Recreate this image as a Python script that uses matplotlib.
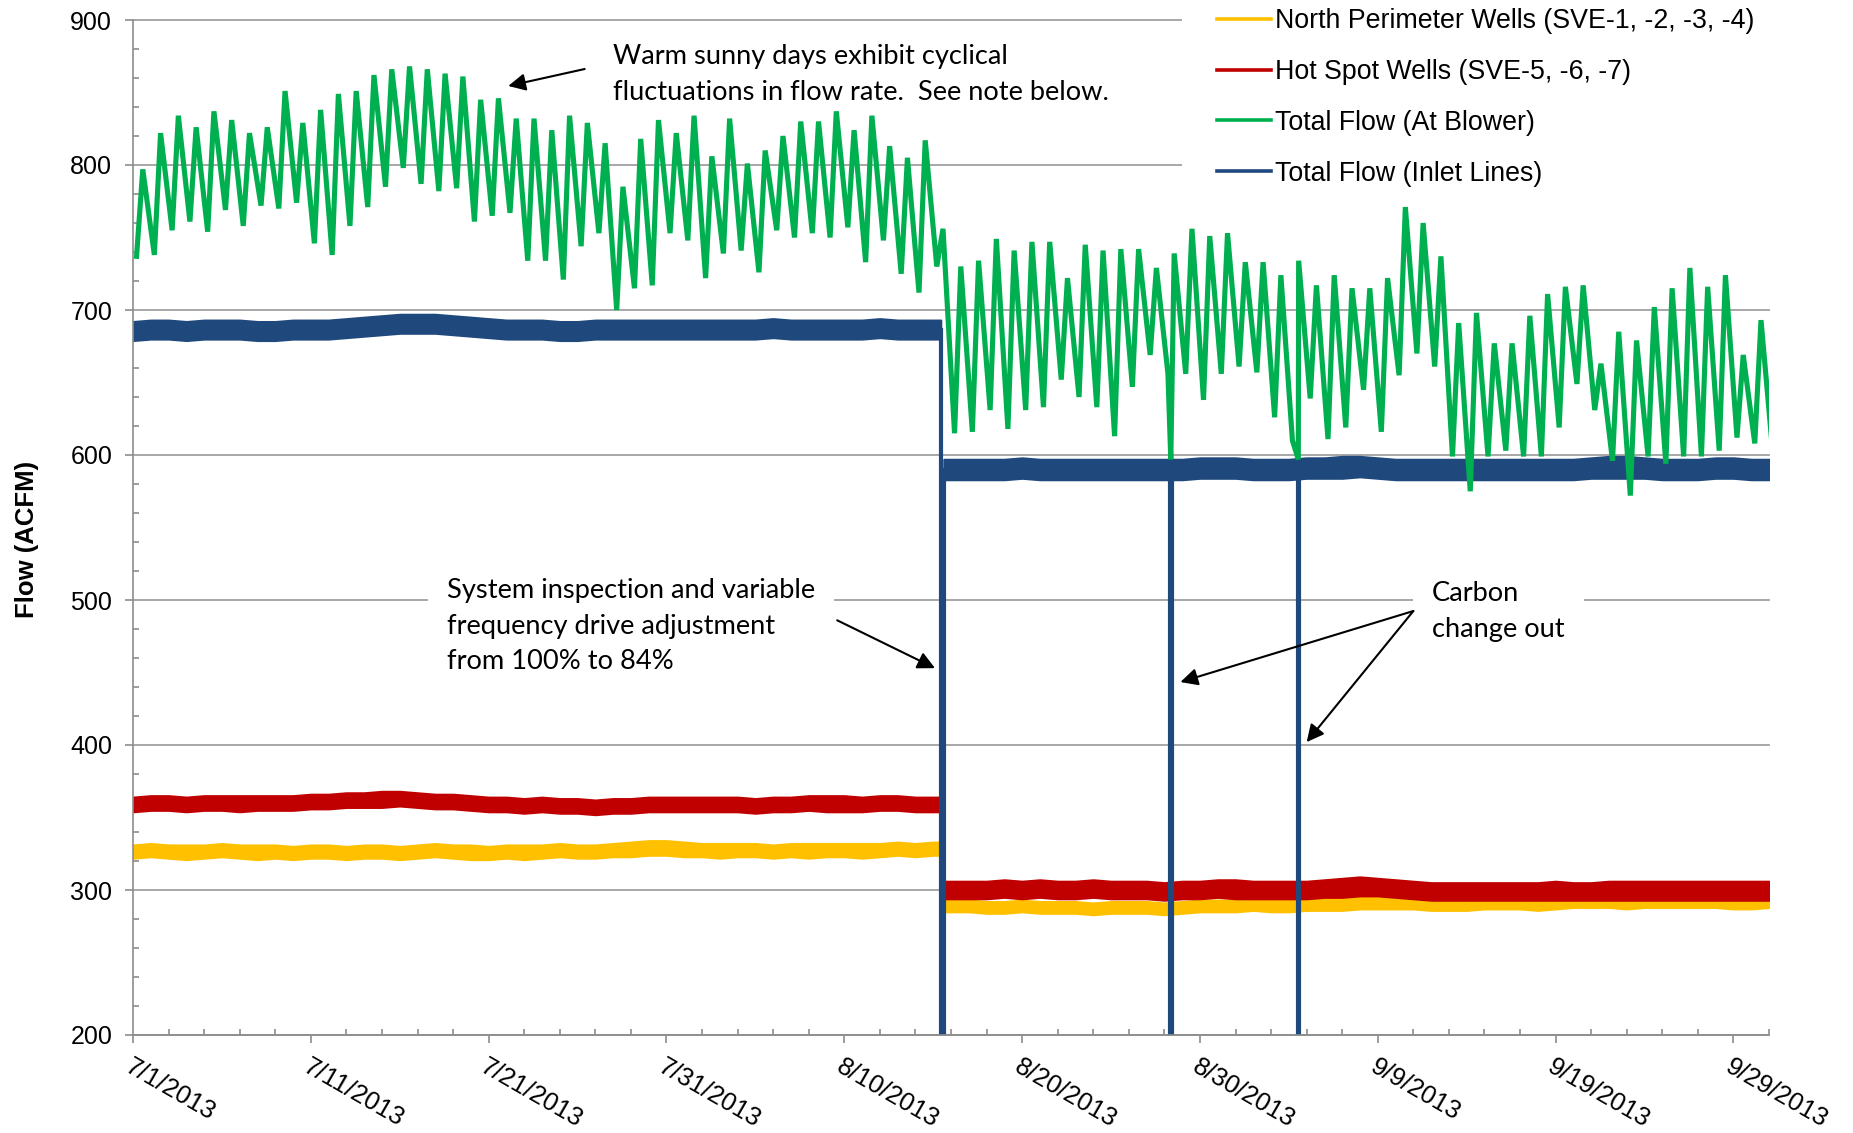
import numpy as np
import pandas as pd
import matplotlib
matplotlib.use("Agg")
import matplotlib.pyplot as plt
from matplotlib.lines import Line2D
from matplotlib.patches import Rectangle

# ---- data (x = days after 7/1/2013) ----
# daily low / high of the flat series (days 0..92)
north_lo = [322, 323, 322, 321, 322, 323, 322, 321, 322, 321,
            322, 322, 321, 322, 322, 321, 322, 323, 322, 321,
            321, 322, 321, 322, 323, 322, 322, 323, 323, 324,
            324, 323, 323, 322, 323, 323, 322, 323, 322, 323,
            323, 322, 323, 324, 323, 324,
            285, 285, 284, 284, 285, 284, 284, 284, 283, 284,
            284, 284, 283, 284, 285, 285, 285, 286, 285, 285,
            286, 286, 286, 287, 287, 287, 287, 286, 286, 286,
            287, 287, 287, 286, 287, 288, 288, 288, 287, 288,
            288, 288, 288, 288, 287, 287, 288]
north_hi = [331, 332, 331, 331, 331, 332, 331, 331, 331, 330,
            331, 331, 330, 331, 331, 330, 331, 332, 331, 331,
            330, 331, 331, 331, 332, 331, 331, 332, 333, 334,
            334, 333, 332, 332, 332, 332, 331, 332, 332, 332,
            332, 332, 332, 333, 332, 333,
            293, 293, 292, 292, 293, 292, 292, 292, 291, 292,
            292, 292, 291, 292, 293, 293, 293, 294, 294, 294,
            295, 295, 295, 296, 296, 296, 296, 295, 295, 295,
            296, 296, 296, 295, 296, 297, 297, 297, 296, 297,
            297, 297, 297, 297, 296, 296, 297]

hot_lo = [354, 355, 355, 354, 355, 355, 354, 355, 355, 355,
          356, 356, 357, 357, 357, 358, 357, 356, 356, 355,
          354, 354, 353, 354, 353, 353, 352, 353, 353, 354,
          354, 354, 354, 354, 354, 353, 354, 354, 355, 354,
          354, 354, 355, 355, 354, 354,
          294, 294, 294, 295, 294, 295, 294, 294, 295, 294,
          294, 294, 293, 294, 294, 295, 294, 294, 294, 294,
          294, 295, 295, 296, 296, 295, 294, 293, 293, 293,
          293, 293, 293, 293, 293, 293, 293, 293, 293, 293,
          293, 293, 293, 293, 293, 293, 293]
hot_hi = [364, 365, 365, 364, 365, 365, 365, 365, 365, 365,
          366, 366, 367, 367, 368, 368, 367, 366, 366, 365,
          364, 364, 363, 364, 363, 363, 362, 363, 363, 364,
          364, 364, 364, 364, 364, 363, 364, 364, 365, 365,
          365, 364, 365, 365, 364, 364,
          306, 306, 306, 307, 306, 307, 306, 306, 307, 306,
          306, 306, 305, 306, 306, 307, 307, 306, 306, 306,
          306, 307, 308, 309, 308, 307, 306, 305, 305, 305,
          305, 305, 305, 305, 306, 305, 305, 306, 306, 306,
          306, 306, 306, 306, 306, 306, 306]

inlet_lo = [679, 680, 680, 679, 680, 680, 680, 679, 679, 680,
            680, 680, 681, 682, 683, 684, 684, 684, 683, 682,
            681, 680, 680, 680, 679, 679, 680, 680, 680, 680,
            680, 680, 680, 680, 680, 680, 681, 680, 680, 680,
            680, 680, 681, 680, 680, 680,
            583, 583, 583, 583, 584, 583, 583, 583, 583, 583,
            583, 583, 583, 583, 584, 584, 584, 583, 583, 583,
            584, 584, 584, 585, 584, 583, 583, 583, 583, 583,
            583, 583, 583, 583, 583, 583, 584, 584, 584, 584,
            583, 583, 583, 584, 584, 583, 583]
inlet_hi = [692, 693, 693, 692, 693, 693, 693, 692, 692, 693,
            693, 693, 694, 695, 696, 697, 697, 697, 696, 695,
            694, 693, 693, 693, 692, 692, 693, 693, 693, 693,
            693, 693, 693, 693, 693, 693, 694, 693, 693, 693,
            693, 693, 694, 693, 693, 693,
            597, 597, 597, 597, 598, 597, 597, 597, 597, 597,
            597, 597, 597, 597, 598, 598, 598, 597, 597, 597,
            598, 598, 599, 599, 598, 597, 597, 597, 597, 597,
            597, 597, 597, 597, 597, 597, 598, 599, 599, 598,
            597, 597, 597, 598, 598, 597, 597]

# blower flow: daily trough (morning) and peak (afternoon)
green_lo = [737, 738, 755, 761, 754, 769, 758, 772, 770, 774,
            746, 738, 758, 771, 785, 798, 787, 782, 784, 761,
            765, 767, 734, 734, 721, 744, 753, 700, 715, 717,
            753, 748, 722, 739, 741, 726, 755, 750, 753, 750,
            757, 733, 748, 725, 712, 730,
            615, 616, 631, 618, 631, 633, 652, 640, 633, 613,
            647, 669, 656, 656, 638, 656, 661, 657, 626, 610,
            639, 611, 619, 645, 616, 655, 670, 661, 599, 575,
            599, 603, 599, 599, 619, 649, 631, 596, 572, 599,
            594, 599, 599, 603, 612, 608, 603]
green_hi = [797, 822, 834, 826, 837, 831, 822, 826, 851, 829,
            838, 849, 851, 862, 866, 868, 866, 863, 861, 845,
            846, 832, 832, 824, 834, 829, 815, 785, 818, 831,
            822, 834, 806, 832, 801, 810, 820, 830, 830, 837,
            824, 834, 813, 805, 817, 756,
            730, 734, 749, 741, 747, 747, 722, 745, 741, 742,
            742, 729, 739, 756, 751, 753, 733, 733, 724, 734,
            717, 724, 715, 715, 722, 771, 760, 737, 691, 698,
            677, 677, 696, 711, 716, 717, 663, 685, 679, 702,
            715, 729, 716, 724, 669, 693]

# shutdowns: VFD adjustment (8/15) and two carbon change outs
shutdown_start = [45.42, 58.32, 65.49]
shutdown_end = [45.60, 58.40, 65.57]
inlet_before = [686, 590, 590]
inlet_after = [590, 590, 590]
carbon_dip_day = [58.36, 65.53]
carbon_dip_flow = [597, 597]

tick_dates = pd.date_range("2013-07-01", "2013-09-29", freq="10D")
tick_labels = [f"{d.month}/{d.day}/{d.year}" for d in tick_dates]

labels = ["North Perimeter Wells (SVE-1, -2, -3, -4)",
          "Hot Spot Wells (SVE-5, -6, -7)",
          "Total Flow (At Blower)",
          "Total Flow (Inlet Lines)"]
colors = ["#FFC000", "#C00000", "#00B050", "#1F497D"]
GRAY = "#8C8C8C"

ARIAL = ["Liberation Sans", "DejaVu Sans"]
CALIBRI = ["Lato", "DejaVu Sans"]

days = np.arange(93)


def split_at_vfd(lo, hi):
    lo = np.asarray(lo, float)
    hi = np.asarray(hi, float)
    t1 = np.append(days[:46], shutdown_start[0])
    l1 = np.append(lo[:46], lo[45])
    h1 = np.append(hi[:46], hi[45])
    t2 = np.insert(days[46:].astype(float), 0, shutdown_end[0])
    l2 = np.insert(lo[46:], 0, lo[46])
    h2 = np.insert(hi[46:], 0, hi[46])
    return [(t1, l1, h1), (t2, l2, h2)]


fig = plt.figure(figsize=(18.53, 11.33), dpi=100)
ax = fig.add_axes([133 / 1853, 98 / 1133, 1636 / 1853, 1015 / 1133])

# flat series as noisy bands
for lo, hi, col, z in [(north_lo, north_hi, colors[0], 2.0),
                       (hot_lo, hot_hi, colors[1], 2.1),
                       (inlet_lo, inlet_hi, colors[3], 2.2)]:
    for t, l, h in split_at_vfd(lo, hi):
        ax.fill_between(t, l, h, color=col, lw=1.6, edgecolor=col, zorder=z)

# inlet flow drops to zero during shutdowns
for s, e, b, a in zip(shutdown_start, shutdown_end, inlet_before, inlet_after):
    ax.plot([s, s, e, e], [b, 0, 0, a], color=colors[3], lw=3,
            solid_joinstyle="miter", zorder=2.25)

# blower flow
t_g = []
v_g = []
for d in range(len(green_hi)):
    t_g += [d + 0.2, d + 0.55]
    v_g += [green_lo[d], green_hi[d]]
t_g.append(len(green_hi) + 0.2)
v_g.append(green_lo[-1])
t_g = np.array(t_g + carbon_dip_day)
v_g = np.array(v_g + carbon_dip_flow)
order = np.argsort(t_g)
ax.plot(t_g[order], v_g[order], color=colors[2], lw=3.7, zorder=2.3,
        solid_joinstyle="miter")

# axes styling
ax.set_xlim(0, 92)
ax.set_ylim(200, 900)
ax.set_yticks(np.arange(200, 901, 100))
ax.set_yticks(np.arange(200, 901, 20), minor=True)
ax.set_xticks((tick_dates - tick_dates[0]).days)
ax.set_xticks(np.arange(0, 93, 2), minor=True)
ax.set_xticklabels(tick_labels)
for sp in ["top", "right"]:
    ax.spines[sp].set_visible(False)
for sp in ["left", "bottom"]:
    ax.spines[sp].set_color(GRAY)
    ax.spines[sp].set_linewidth(1.2)
ax.tick_params(which="major", direction="out", length=6, width=1.2,
               color=GRAY, labelsize=18)
ax.tick_params(which="minor", direction="in", length=4.5, width=1.2,
               color=GRAY)
ax.tick_params(axis="y", which="major", pad=9)
ax.tick_params(axis="x", which="major", pad=8, labelsize=18.4)
for lab in ax.get_yticklabels():
    lab.set_fontfamily(ARIAL)
for lab in ax.get_xticklabels():
    lab.set_fontfamily(ARIAL)
    lab.set_rotation(-30)
    lab.set_ha("left")
    lab.set_va("top")
    lab.set_rotation_mode("anchor")

ax.set_axisbelow(True)
ax.grid(axis="y", which="major", color="#A0A0A0", lw=1.3)
for gl in ax.get_ygridlines():
    gl.set_clip_on(False)

ax.set_ylabel("Flow (ACFM)", fontsize=18.5, fontweight="bold", family=ARIAL)
ax.yaxis.set_label_coords(-0.0575, 0.488)

# white area behind the legend
ax.add_patch(Rectangle((0.641, 0.8325), 0.36, 0.2, transform=ax.transAxes,
                       facecolor="white", edgecolor="none", zorder=1,
                       clip_on=False))

handles = [Line2D([], [], color=c, lw=2.6) for c in colors]
fig.legend(handles, labels, loc="upper left",
           bbox_to_anchor=(1217 / 1853, 1 - 8 / 1133), frameon=False,
           prop={"family": ARIAL, "size": 19.3}, handlelength=2.0,
           handletextpad=0.15, labelspacing=0.93, borderpad=0,
           borderaxespad=0)

# annotations
txt_kw = dict(family=CALIBRI, fontsize=19.6, linespacing=1.52, zorder=4)
ax.text(27.0, 862.5, "Warm sunny days exhibit cyclical\n"
        "fluctuations in flow rate.  See note below.", va="center",
        ha="left", **txt_kw)
ax.text(17.67, 482, "System inspection and variable\n"
        "frequency drive adjustment\nfrom 100% to 84%", va="center",
        ha="left", bbox=dict(boxstyle="square,pad=0.7", fc="white",
                             ec="none"), **txt_kw)
ax.text(73.05, 492, "Carbon\nchange out", va="center", ha="left",
        bbox=dict(boxstyle="square,pad=0.7", fc="white", ec="none"),
        **txt_kw)

arrow = dict(arrowstyle="-|>", color="black", lw=1.5, mutation_scale=26,
             shrinkA=0, shrinkB=0)
ax.annotate("", xy=(21.1, 854.5), xytext=(25.4, 866.2), arrowprops=arrow,
            zorder=4)
ax.annotate("", xy=(45.1, 453), xytext=(39.6, 486), arrowprops=arrow,
            zorder=4)
ax.annotate("", xy=(58.9, 443.4), xytext=(72.0, 492.4), arrowprops=arrow,
            zorder=4)
ax.annotate("", xy=(66.0, 402), xytext=(72.0, 492.4), arrowprops=arrow,
            zorder=4)

fig.savefig("out.png", dpi=100)
